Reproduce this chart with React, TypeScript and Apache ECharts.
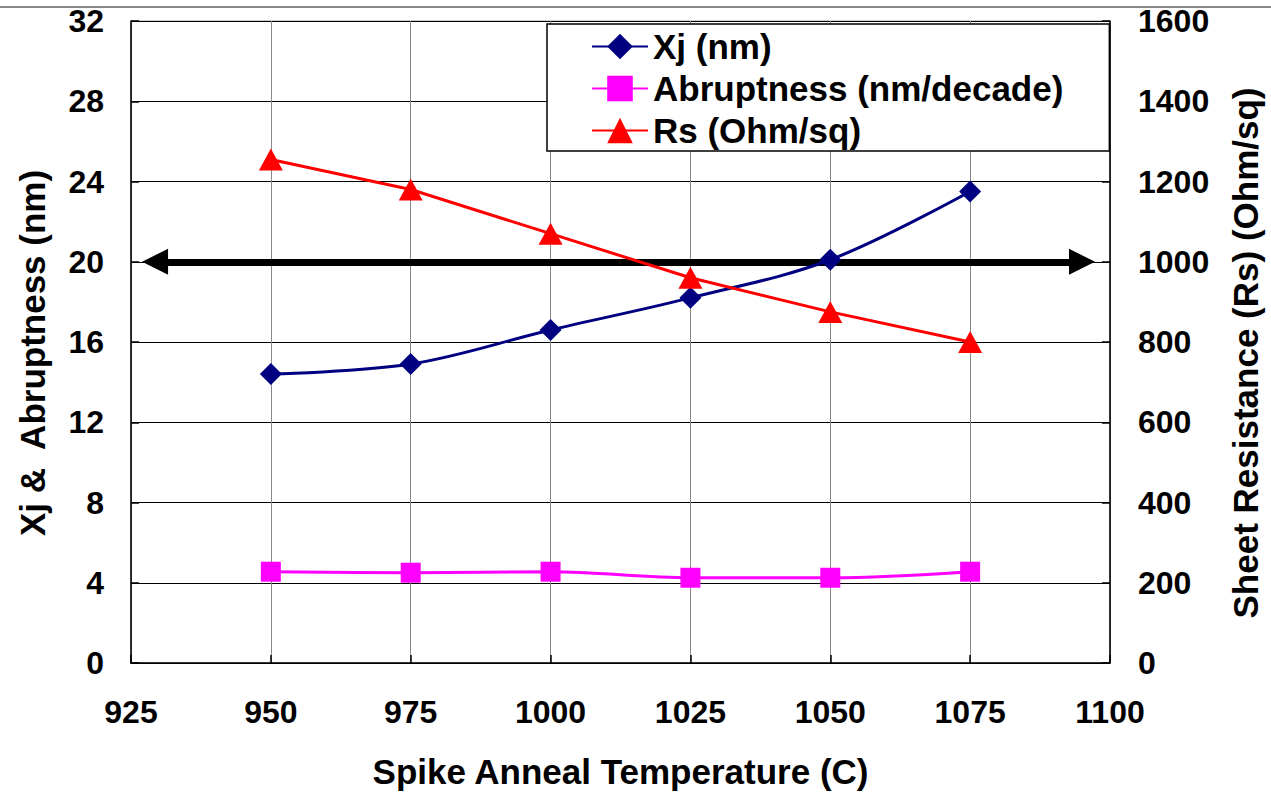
import React, { useEffect, useRef } from "react";
import * as echarts from "echarts";

const temps = [950, 975, 1000, 1025, 1050, 1075];
const xjValues = [14.4, 14.9, 16.6, 18.2, 20.1, 23.5];
const abruptValues = [4.55, 4.5, 4.55, 4.25, 4.25, 4.55];
const rsValues = [1255, 1180, 1070, 960, 875, 800];
const xTicks = { min: 925, max: 1100, interval: 25 };
const leftTicks = { min: 0, max: 32, interval: 4 };
const rightTicks = { min: 0, max: 1600, interval: 200 };
const arrowLevel = 20;
const arrowStart = 929.3;
const arrowEnd = 1095;

const FONT = "'Liberation Sans', Arial, sans-serif";

export default function App() {
  const ref = useRef<HTMLDivElement>(null);
  useEffect(() => {
    if (!ref.current) return;
    const chart = echarts.init(ref.current, undefined, { renderer: "svg" });
    const pairs = (vals: number[]) => temps.map((t, i) => [t, vals[i]]);
    const plain = (v: number) => String(v);
    const tickFont = { fontFamily: FONT, fontWeight: "bold" as const, fontSize: 32, color: "#000", formatter: plain };
    const nameFont = { fontFamily: FONT, fontWeight: "bold" as const, fontSize: 35, color: "#000" };
    const yNameFont = { ...nameFont, padding: [0, 22, 0, 0] };
    chart.setOption({
      animation: false,
      backgroundColor: "#fff",
      grid: {
        left: 131,
        right: 161,
        top: 21,
        bottom: 130,
        show: true,
        borderColor: "#999",
        borderWidth: 1,
        backgroundColor: "transparent",
      },
      graphic: [
        {
          type: "line",
          shape: { x1: 0, y1: 7, x2: 1271, y2: 7 },
          style: { stroke: "#888", lineWidth: 2 },
        },
      ],
      legend: {
        orient: "vertical",
        left: 547,
        top: 24,
        padding: [5, 46, 3, 44],
        itemGap: 7,
        itemWidth: 56,
        itemHeight: 32,
        borderColor: "#000",
        borderWidth: 1.5,
        backgroundColor: "#fff",
        textStyle: { ...nameFont, fontSize: 35, lineHeight: 34 },
        data: ["Xj (nm)", "Abruptness (nm/decade)", "Rs (Ohm/sq)"],
      },
      xAxis: {
        type: "value",
        min: xTicks.min,
        max: xTicks.max,
        interval: xTicks.interval,
        name: "Spike Anneal Temperature (C)",
        nameLocation: "middle",
        nameGap: 91,
        nameTextStyle: nameFont,
        axisLine: { show: true, lineStyle: { color: "#000", width: 1.5 } },
        axisTick: { show: true, inside: true, length: 8, lineStyle: { color: "#000", width: 1.5 } },
        axisLabel: { ...tickFont, margin: 33 },
        splitLine: { show: true, lineStyle: { color: "#888", width: 1 } },
      },
      yAxis: [
        {
          type: "value",
          min: leftTicks.min,
          max: leftTicks.max,
          interval: leftTicks.interval,
          name: "Xj &  Abruptness (nm)",
          nameLocation: "middle",
          nameRotate: 90,
          nameGap: 81,
          nameTextStyle: yNameFont,
          axisLine: { show: true, lineStyle: { color: "#000", width: 1.5 } },
          axisTick: { show: true, inside: true, length: 8, lineStyle: { color: "#000", width: 1.5 } },
          axisLabel: { ...tickFont, margin: 27 },
          splitLine: { show: true, lineStyle: { color: "#000", width: 1 } },
        },
        {
          type: "value",
          position: "right",
          min: rightTicks.min,
          max: rightTicks.max,
          interval: rightTicks.interval,
          name: "Sheet Resistance (Rs) (Ohm/sq)",
          nameLocation: "middle",
          nameRotate: 90,
          nameGap: 118,
          nameTextStyle: yNameFont,
          axisLine: { show: true, lineStyle: { color: "#000", width: 1.5 } },
          axisTick: { show: true, inside: true, length: 8, lineStyle: { color: "#000", width: 1.5 } },
          axisLabel: { ...tickFont, margin: 28 },
          splitLine: { show: false },
        },
      ],
      series: [
        {
          name: "Xj (nm)",
          type: "line",
          yAxisIndex: 0,
          data: pairs(xjValues),
          smooth: 0.35,
          symbol: "diamond",
          symbolSize: 22,
          color: "#000080",
          lineStyle: { color: "#000080", width: 3 },
          itemStyle: { color: "#000080" },
          z: 3,
          markLine: {
            silent: true,
            symbol: ["triangle", "triangle"],
            symbolSize: [26, 26],
            label: { show: false },
            lineStyle: { color: "#000", width: 7, type: "solid" },
            data: [[{ coord: [arrowStart, arrowLevel] }, { coord: [arrowEnd, arrowLevel] }]],
            z: 2,
          },
        },
        {
          name: "Abruptness (nm/decade)",
          type: "line",
          yAxisIndex: 0,
          data: pairs(abruptValues),
          smooth: 0.35,
          symbol: "rect",
          symbolSize: 20,
          color: "#ff00ff",
          lineStyle: { color: "#ff00ff", width: 3 },
          itemStyle: { color: "#ff00ff" },
          z: 3,
        },
        {
          name: "Rs (Ohm/sq)",
          type: "line",
          yAxisIndex: 1,
          data: pairs(rsValues),
          symbol: "triangle",
          symbolSize: [24, 22],
          color: "#ff0000",
          lineStyle: { color: "#ff0000", width: 3 },
          itemStyle: { color: "#ff0000" },
          z: 4,
        },
      ],
    });
    return () => chart.dispose();
  }, []);
  return (
    <div
      ref={ref}
      style={{ position: "fixed", left: 0, top: 0, width: 1271, height: 794, background: "#fff" }}
    />
  );
}
